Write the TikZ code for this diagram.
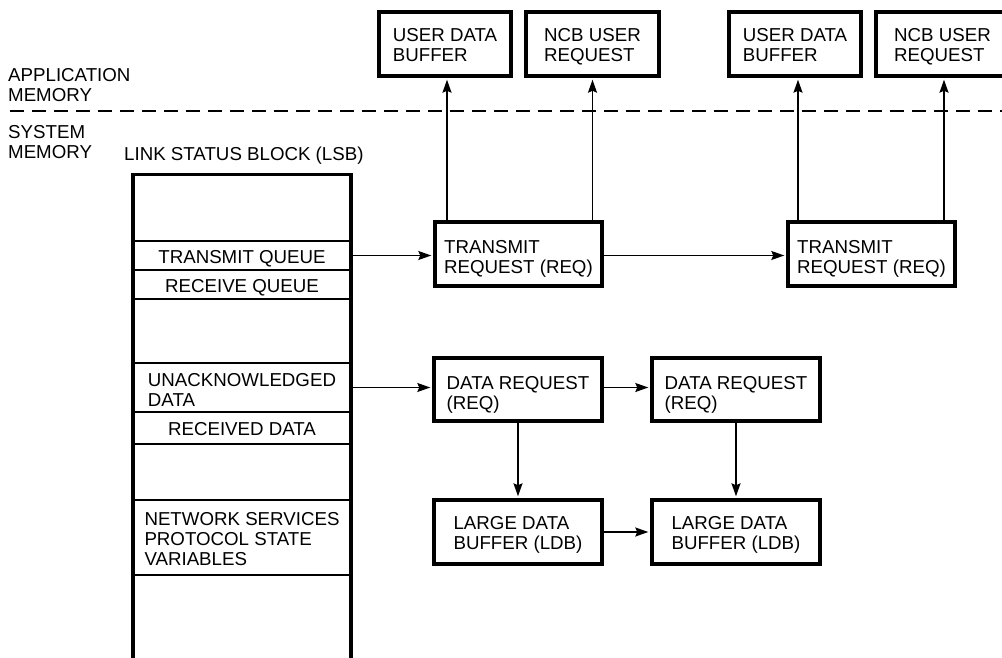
\documentclass[tikz,border=0pt]{standalone}
\usepackage{fontspec}
\setmainfont{Liberation Sans}
\usetikzlibrary{arrows.meta}
% #1 = height of first-line strut (sets vertical offset), #2 = text
\newcommand\lns[2]{\rule{0pt}{#1pt}#2\rule[-5pt]{0pt}{5pt}}
\begin{document}
\begin{tikzpicture}[x=1pt,y=-1pt,
  every node/.style={font=\fontsize{18.7}{20.4}\selectfont, inner sep=0pt, align=left},
  box/.style={draw, line width=3.8pt, minimum width=#1},
  box/.default=133,
  row/.style={draw, line width=1.2pt, minimum width=218},
  arr/.style={line width=1.6pt, -{Stealth[length=13pt,width=9pt,inset=2pt]}, shorten >=1.7pt},
  lbl/.style={anchor=west}
]
\useasboundingbox (0,0) rectangle (1002,658);
\clip (0,0) rectangle (1002,658);

% memory labels and separator
\node[lbl] (app) at (8,85) {APPLICATION\\MEMORY};
\node[lbl] (sys) at (8,142) {SYSTEM\\MEMORY};
\draw[line width=1.6pt, dash pattern=on 14pt off 8pt] (10,111) -- (1002,111);

% link status block
\node[anchor=base west] (lsbt) at (124,161) {LINK STATUS BLOCK (LSB)};
\node[row, minimum height=29] (tq) at (242,255.5) {\lns{21}{TRANSMIT QUEUE}};
\node[row, minimum height=29] (rq) at (242,284.5) {\lns{21}{RECEIVE QUEUE}};
\node[row, minimum height=49] (ua) at (242,387.5) {\lns{22.5}{UNACKNOWLEDGED\\DATA}};
\node[row, minimum height=32] (rd) at (242,428) {\lns{19.6}{RECEIVED DATA}};
\node[row, minimum height=75] (ns) at (242,537.5) {\lns{21}{NETWORK SERVICES\\PROTOCOL STATE\\VARIABLES}};
\draw[line width=3.7pt] (133,680) -- (133,174.5) -- (351,174.5) -- (351,680);

% application memory boxes
\node[box=132.2, minimum height=64.2] (ub1) at (445,44) {\lns{20.2}{USER DATA\\BUFFER}};
\node[box=133.2, minimum height=64.2] (nr1) at (592.5,44) {\lns{20.2}{NCB USER\\REQUEST}};
\node[box=132.2, minimum height=64.2] (ub2) at (795,44) {\lns{20.2}{USER DATA\\BUFFER}};
\node[box=133.2, minimum height=64.2] (nr2) at (942.5,44) {\lns{20.2}{NCB USER\\REQUEST}};

% transmit requests
\node[box=167.2, minimum height=64.2] (tr1) at (518.5,254) {\lns{24.2}{TRANSMIT\\REQUEST (REQ)}};
\node[box=167.2, minimum height=64.2] (tr2) at (871.5,254) {\lns{24.2}{TRANSMIT\\REQUEST (REQ)}};

% data requests and buffers
\node[box=168.2, minimum height=63.2] (dr1) at (518,389.5) {\lns{25}{DATA REQUEST\\(REQ)}};
\node[box=168.2, minimum height=63.2] (dr2) at (736,389.5) {\lns{25}{DATA REQUEST\\(REQ)}};
\node[box=168.2, minimum height=64.2] (ldb1) at (518,532) {\lns{20.2}{LARGE DATA\\BUFFER (LDB)}};
\node[box=168.2, minimum height=64.2] (ldb2) at (736,532) {\lns{20.2}{LARGE DATA\\BUFFER (LDB)}};

% connectors
\draw[arr] ([xshift=2pt]ub1.south |- tr1.north) -- ([xshift=2pt]ub1.south);
\draw[arr] (nr1.south |- tr1.north) -- (nr1.south);
\draw[arr] ([xshift=3pt]ub2.south |- tr2.north) -- ([xshift=3pt]ub2.south);
\draw[arr] ([xshift=1.5pt]nr2.south |- tr2.north) -- ([xshift=1.5pt]nr2.south);
\draw[arr] (tq.east) -- (tq.east -| tr1.west);
\draw[arr] (tr1.east |- tq.east) -- (tr2.west |- tq.east);
\draw[arr] (ua.east) -- (ua.east -| dr1.west);
\draw[arr] (dr1.east |- ua.east) -- (dr2.west |- ua.east);
\draw[arr] (dr1.south) -- (ldb1.north);
\draw[arr] (dr2.south) -- (ldb2.north);
\draw[arr] (ldb1.east) -- (ldb2.west);
\end{tikzpicture}
\end{document}
